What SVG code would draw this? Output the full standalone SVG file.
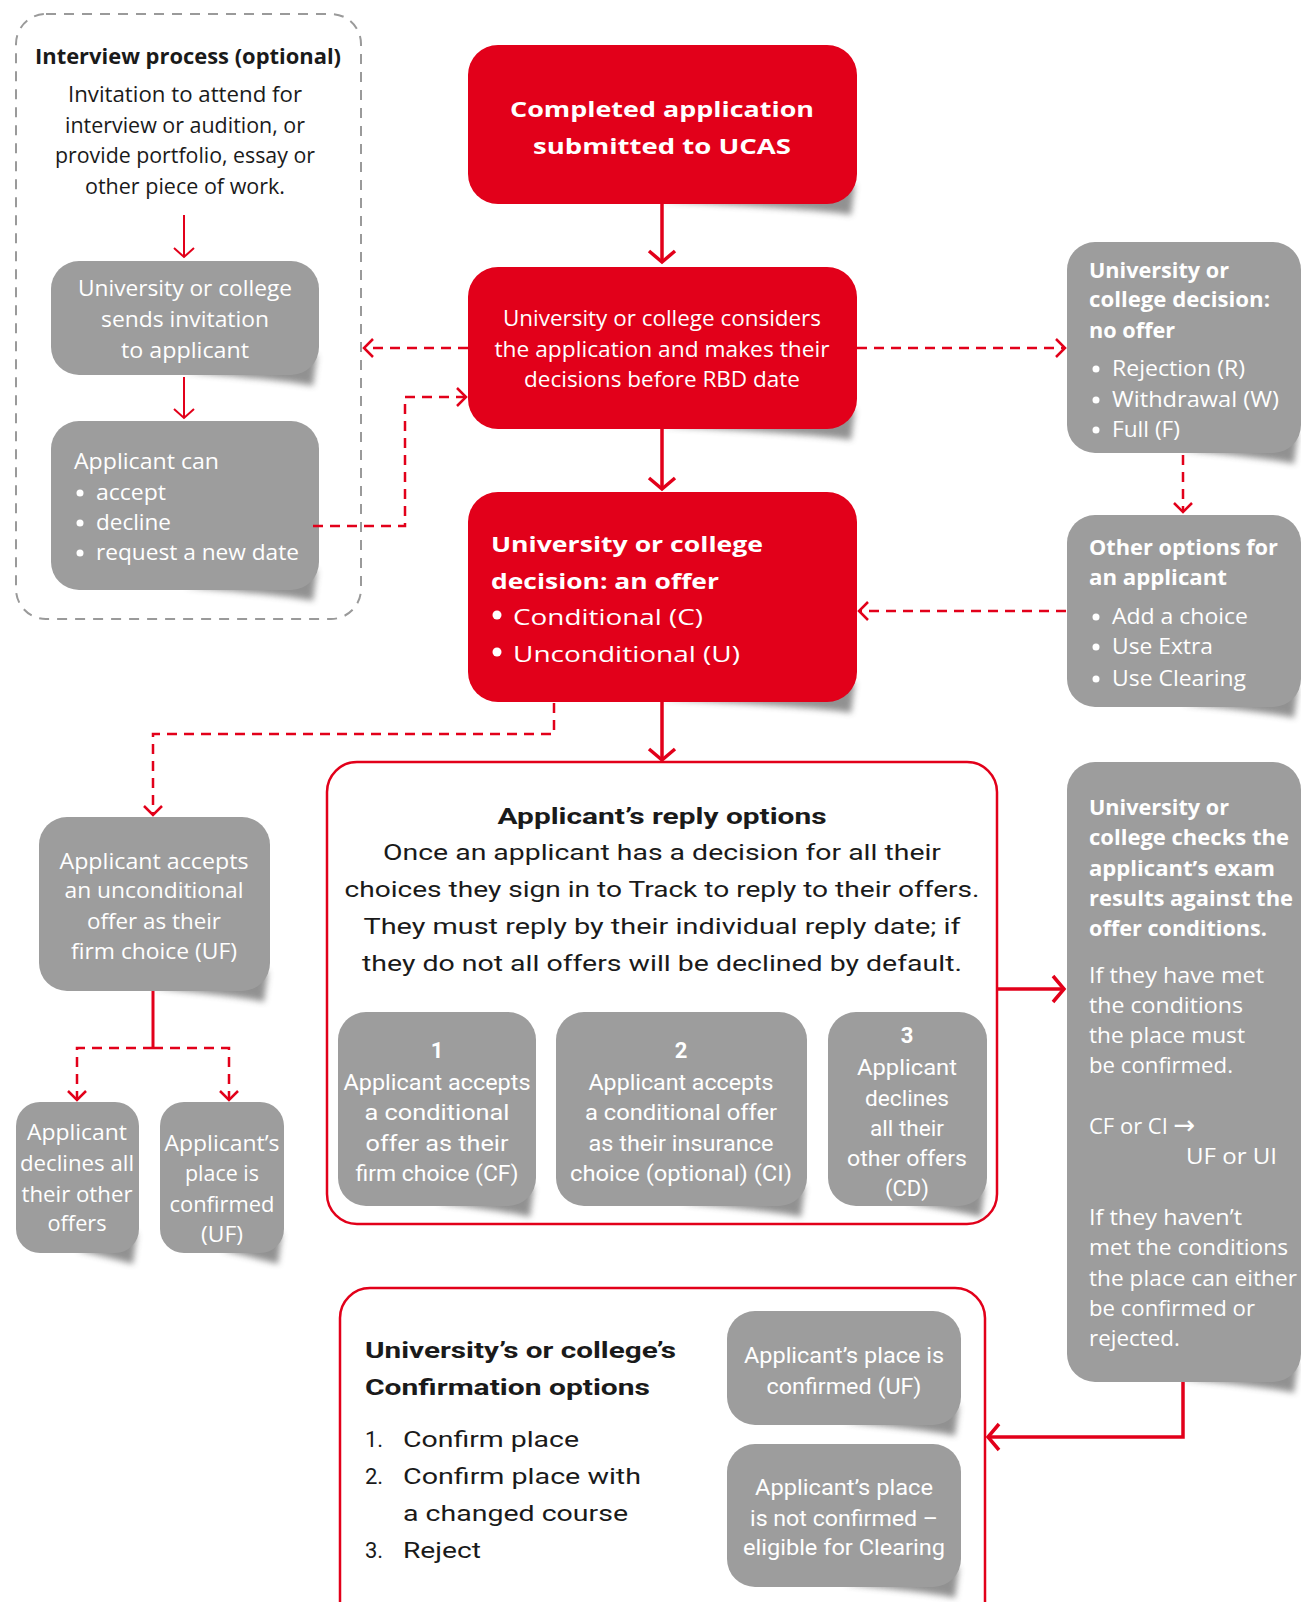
<svg xmlns="http://www.w3.org/2000/svg" width="1301" height="1602" viewBox="0 0 1301 1602">
<style>
.bg{fill:#fff}
.gray{fill:#9d9d9d}
.red{fill:#e2001a}
.sh{fill:#4a4a4a;opacity:.6;filter:url(#blur)}
.outline{fill:#fff;stroke:#e2001a;stroke-width:2.5}
.dashbox{fill:none;stroke:#9a9a9a;stroke-width:2;stroke-dasharray:10 8}
text{font-family:"Open Sans","Noto Sans",sans-serif;font-size:22px;fill:#fff}
.k{fill:#1a1a1a}
.b{font-weight:700}
.c{font-family:Roboto,"Liberation Sans",sans-serif}
.m{text-anchor:middle}
.solid{fill:none;stroke:#e2001a;stroke-width:3.5}
.thin{fill:none;stroke:#e2001a;stroke-width:2}
.dash{fill:none;stroke:#e2001a;stroke-width:2.5;stroke-dasharray:10 7}
</style>
<defs>
<filter id="blur" x="-20%" y="-50%" width="140%" height="200%"><feGaussianBlur stdDeviation="3"/></filter>
<marker id="ah" markerUnits="userSpaceOnUse" markerWidth="32" markerHeight="32" viewBox="-16 -16 32 32" refX="0" refY="0" orient="auto" overflow="visible"><path d="M-11,-13 L0,0 L-11,13" fill="none" stroke="#e2001a" stroke-width="3.5"/></marker>
<marker id="ad" markerUnits="userSpaceOnUse" markerWidth="24" markerHeight="24" viewBox="-12 -12 24 24" refX="0" refY="0" orient="auto" overflow="visible"><path d="M-9,-9 L0,0 L-9,9" fill="none" stroke="#e2001a" stroke-width="2.5"/></marker>
<marker id="at" markerUnits="userSpaceOnUse" markerWidth="24" markerHeight="24" viewBox="-12 -12 24 24" refX="0" refY="0" orient="auto" overflow="visible"><path d="M-9,-10 L0,0 L-9,10" fill="none" stroke="#e2001a" stroke-width="2"/></marker>
</defs>
<rect class="bg" x="0" y="0" width="1301" height="1602"/>

<g id="interview">
<rect class="dashbox" x="16" y="14" width="345" height="605" rx="30"/>
<text class="k b m" x="188" y="64" textLength="306" lengthAdjust="spacingAndGlyphs">Interview process (optional)</text>
<text class="k m" x="185" y="102" font-size="21" textLength="234" lengthAdjust="spacingAndGlyphs">Invitation to attend for</text>
<text class="k m" x="185" y="133" font-size="21" textLength="240" lengthAdjust="spacingAndGlyphs">interview or audition, or</text>
<text class="k m" x="185" y="163" font-size="21" textLength="260" lengthAdjust="spacingAndGlyphs">provide portfolio, essay or</text>
<text class="k m" x="185" y="194" font-size="21" textLength="200" lengthAdjust="spacingAndGlyphs">other piece of work.</text>
</g>

<g id="sends-invitation">
<path class="sh" d="M185,372 Q294,381 313,386 L317,355 Z"/>
<rect class="gray" x="51" y="261" width="268" height="114" rx="28"/>
<text class="m" x="185" y="296" textLength="214" lengthAdjust="spacingAndGlyphs">University or college</text>
<text class="m" x="185" y="327" textLength="168" lengthAdjust="spacingAndGlyphs">sends invitation</text>
<text class="m" x="185" y="358" textLength="128" lengthAdjust="spacingAndGlyphs">to applicant</text>
</g>

<g id="applicant-can">
<path class="sh" d="M185,587 Q294,596 313,601 L317,570 Z"/>
<rect class="gray" x="51" y="421" width="268" height="169" rx="28"/>
<text x="74" y="469" textLength="145" lengthAdjust="spacingAndGlyphs">Applicant can</text>
<circle cx="80" cy="493" r="3.5" fill="#fff"/><text x="96" y="500" textLength="70" lengthAdjust="spacingAndGlyphs">accept</text>
<circle cx="80" cy="523" r="3.5" fill="#fff"/><text x="96" y="530" textLength="75" lengthAdjust="spacingAndGlyphs">decline</text>
<circle cx="80" cy="553" r="3.5" fill="#fff"/><text x="96" y="560" textLength="203" lengthAdjust="spacingAndGlyphs">request a new date</text>
</g>

<g id="submitted">
<path class="sh" d="M662,201 Q832,210 851,215 L855,184 Z"/>
<rect class="red" x="468" y="45" width="389" height="159" rx="30"/>
<text class="b m" x="662" y="117" font-size="31" textLength="304" lengthAdjust="spacingAndGlyphs">Completed application</text>
<text class="b m" x="662" y="154" font-size="31" textLength="258" lengthAdjust="spacingAndGlyphs">submitted to UCAS</text>
</g>

<g id="considers">
<path class="sh" d="M662,426 Q832,435 851,440 L855,409 Z"/>
<rect class="red" x="468" y="267" width="389" height="162" rx="30"/>
<text class="m" x="662" y="326" textLength="318" lengthAdjust="spacingAndGlyphs">University or college considers</text>
<text class="m" x="662" y="357" textLength="335" lengthAdjust="spacingAndGlyphs">the application and makes their</text>
<text class="m" x="662" y="387" textLength="276" lengthAdjust="spacingAndGlyphs">decisions before RBD date</text>
</g>

<g id="offer">
<path class="sh" d="M662,699 Q832,708 851,713 L855,682 Z"/>
<rect class="red" x="468" y="492" width="389" height="210" rx="30"/>
<text class="b" x="491" y="552" font-size="30" textLength="272" lengthAdjust="spacingAndGlyphs">University or college</text>
<text class="b" x="491" y="589" font-size="30" textLength="228" lengthAdjust="spacingAndGlyphs">decision: an offer</text>
<circle cx="497" cy="615" r="4.5" fill="#fff"/><text x="513" y="625" font-size="30" textLength="190" lengthAdjust="spacingAndGlyphs">Conditional (C)</text>
<circle cx="497" cy="652" r="4.5" fill="#fff"/><text x="513" y="662" font-size="30" textLength="227" lengthAdjust="spacingAndGlyphs">Unconditional (U)</text>
</g>

<g id="no-offer">
<path class="sh" d="M1183,450 Q1275,459 1294,464 L1298,433 Z"/>
<rect class="gray" x="1067" y="242" width="234" height="211" rx="28"/>
<text class="b" x="1089" y="278" textLength="140" lengthAdjust="spacingAndGlyphs">University or</text>
<text class="b" x="1089" y="307" textLength="181" lengthAdjust="spacingAndGlyphs">college decision:</text>
<text class="b" x="1089" y="338" textLength="86" lengthAdjust="spacingAndGlyphs">no offer</text>
<circle cx="1096" cy="369" r="3.5" fill="#fff"/><text x="1112" y="376" textLength="133" lengthAdjust="spacingAndGlyphs">Rejection (R)</text>
<circle cx="1096" cy="400" r="3.5" fill="#fff"/><text x="1112" y="407" textLength="167" lengthAdjust="spacingAndGlyphs">Withdrawal (W)</text>
<circle cx="1096" cy="430" r="3.5" fill="#fff"/><text x="1112" y="437" textLength="68" lengthAdjust="spacingAndGlyphs">Full (F)</text>
</g>

<g id="other-options">
<path class="sh" d="M1183,704 Q1275,713 1294,718 L1298,687 Z"/>
<rect class="gray" x="1067" y="515" width="234" height="192" rx="28"/>
<text class="b" x="1089" y="555" textLength="189" lengthAdjust="spacingAndGlyphs">Other options for</text>
<text class="b" x="1089" y="585" textLength="138" lengthAdjust="spacingAndGlyphs">an applicant</text>
<circle cx="1096" cy="617" r="3.5" fill="#fff"/><text x="1112" y="624" textLength="136" lengthAdjust="spacingAndGlyphs">Add a choice</text>
<circle cx="1096" cy="647" r="3.5" fill="#fff"/><text x="1112" y="654" textLength="101" lengthAdjust="spacingAndGlyphs">Use Extra</text>
<circle cx="1096" cy="679" r="3.5" fill="#fff"/><text x="1112" y="686" textLength="134" lengthAdjust="spacingAndGlyphs">Use Clearing</text>
</g>

<g id="accepts-unconditional">
<path class="sh" d="M154,988 Q245,997 264,1002 L268,971 Z"/>
<rect class="gray" x="39" y="817" width="231" height="174" rx="28"/>
<text class="m" x="154" y="869" textLength="189" lengthAdjust="spacingAndGlyphs">Applicant accepts</text>
<text class="m" x="154" y="898" textLength="179" lengthAdjust="spacingAndGlyphs">an unconditional</text>
<text class="m" x="154" y="929" textLength="134" lengthAdjust="spacingAndGlyphs">offer as their</text>
<text class="m" x="154" y="959" textLength="166" lengthAdjust="spacingAndGlyphs">firm choice (UF)</text>
</g>

<g id="declines-others">
<path class="sh" d="M77,1250 Q114,1259 133,1264 L137,1233 Z"/>
<rect class="gray" x="16" y="1102" width="123" height="151" rx="24"/>
<text class="m" x="77" y="1140" textLength="100" lengthAdjust="spacingAndGlyphs">Applicant</text>
<text class="m" x="77" y="1171" textLength="114" lengthAdjust="spacingAndGlyphs">declines all</text>
<text class="m" x="77" y="1202" textLength="111" lengthAdjust="spacingAndGlyphs">their other</text>
<text class="m" x="77" y="1231" textLength="59" lengthAdjust="spacingAndGlyphs">offers</text>
</g>

<g id="place-confirmed-uf">
<path class="sh" d="M222,1250 Q259,1259 278,1264 L282,1233 Z"/>
<rect class="gray" x="160" y="1102" width="124" height="151" rx="24"/>
<text class="m" x="222" y="1151" textLength="115" lengthAdjust="spacingAndGlyphs">Applicant’s</text>
<text class="m" x="222" y="1181" textLength="74" lengthAdjust="spacingAndGlyphs">place is</text>
<text class="m" x="222" y="1212" textLength="105" lengthAdjust="spacingAndGlyphs">confirmed</text>
<text class="m" x="222" y="1242" textLength="42" lengthAdjust="spacingAndGlyphs">(UF)</text>
</g>

<g id="reply-options">
<rect class="outline" x="327" y="762" width="670" height="462" rx="30"/>
<text class="k b c m" x="662" y="824" font-size="32" textLength="329" lengthAdjust="spacingAndGlyphs">Applicant’s reply options</text>
<text class="k c m" x="662" y="860" font-size="33" textLength="558" lengthAdjust="spacingAndGlyphs">Once an applicant has a decision for all their</text>
<text class="k c m" x="662" y="897" font-size="33" textLength="635" lengthAdjust="spacingAndGlyphs">choices they sign in to Track to reply to their offers.</text>
<text class="k c m" x="662" y="934" font-size="33" textLength="597" lengthAdjust="spacingAndGlyphs">They must reply by their individual reply date; if</text>
<text class="k c m" x="662" y="971" font-size="33" textLength="600" lengthAdjust="spacingAndGlyphs">they do not all offers will be declined by default.</text>
</g>

<g id="option-1">
<path class="sh" d="M437,1203 Q511,1212 530,1217 L534,1186 Z"/>
<rect class="gray" x="338" y="1012" width="198" height="194" rx="28"/>
<text class="b c m" x="437" y="1058" font-size="32">1</text>
<text class="c m" x="437" y="1090" font-size="26" textLength="187" lengthAdjust="spacingAndGlyphs">Applicant accepts</text>
<text class="c m" x="437" y="1120" font-size="26" textLength="145" lengthAdjust="spacingAndGlyphs">a conditional</text>
<text class="c m" x="437" y="1151" font-size="26" textLength="143" lengthAdjust="spacingAndGlyphs">offer as their</text>
<text class="c m" x="437" y="1181" font-size="26" textLength="163" lengthAdjust="spacingAndGlyphs">firm choice (CF)</text>
</g>

<g id="option-2">
<path class="sh" d="M681,1203 Q782,1212 801,1217 L805,1186 Z"/>
<rect class="gray" x="556" y="1012" width="251" height="194" rx="28"/>
<text class="b c m" x="681" y="1058" font-size="32">2</text>
<text class="c m" x="681" y="1090" font-size="26" textLength="185" lengthAdjust="spacingAndGlyphs">Applicant accepts</text>
<text class="c m" x="681" y="1120" font-size="26" textLength="192" lengthAdjust="spacingAndGlyphs">a conditional offer</text>
<text class="c m" x="681" y="1151" font-size="26" textLength="185" lengthAdjust="spacingAndGlyphs">as their insurance</text>
<text class="c m" x="681" y="1181" font-size="26" textLength="222" lengthAdjust="spacingAndGlyphs">choice (optional) (CI)</text>
</g>

<g id="option-3">
<path class="sh" d="M907,1203 Q962,1212 981,1217 L985,1186 Z"/>
<rect class="gray" x="828" y="1012" width="159" height="194" rx="28"/>
<text class="b c m" x="907" y="1043" font-size="32">3</text>
<text class="c m" x="907" y="1075" font-size="26" textLength="100" lengthAdjust="spacingAndGlyphs">Applicant</text>
<text class="c m" x="907" y="1106" font-size="26" textLength="84" lengthAdjust="spacingAndGlyphs">declines</text>
<text class="c m" x="907" y="1136" font-size="26" textLength="74" lengthAdjust="spacingAndGlyphs">all their</text>
<text class="c m" x="907" y="1166" font-size="26" textLength="120" lengthAdjust="spacingAndGlyphs">other offers</text>
<text class="c m" x="907" y="1196" font-size="26" textLength="44" lengthAdjust="spacingAndGlyphs">(CD)</text>
</g>

<g id="checks-results">
<path class="sh" d="M1183,1379 Q1275,1388 1294,1393 L1298,1362 Z"/>
<rect class="gray" x="1067" y="762" width="234" height="620" rx="28"/>
<text class="b" x="1089" y="815" textLength="140" lengthAdjust="spacingAndGlyphs">University or</text>
<text class="b" x="1089" y="845" textLength="200" lengthAdjust="spacingAndGlyphs">college checks the</text>
<text class="b" x="1089" y="876" textLength="186" lengthAdjust="spacingAndGlyphs">applicant’s exam</text>
<text class="b" x="1089" y="906" textLength="204" lengthAdjust="spacingAndGlyphs">results against the</text>
<text class="b" x="1089" y="936" textLength="178" lengthAdjust="spacingAndGlyphs">offer conditions.</text>
<text x="1089" y="983" textLength="175" lengthAdjust="spacingAndGlyphs">If they have met</text>
<text x="1089" y="1013" textLength="154" lengthAdjust="spacingAndGlyphs">the conditions</text>
<text x="1089" y="1043" textLength="156" lengthAdjust="spacingAndGlyphs">the place must</text>
<text x="1089" y="1073" textLength="144" lengthAdjust="spacingAndGlyphs">be confirmed.</text>
<text x="1089" y="1134">CF or CI <tspan font-family="DejaVu Sans" font-size="26">→</tspan></text>
<text x="1186" y="1164" textLength="91" lengthAdjust="spacingAndGlyphs">UF or UI</text>
<text x="1089" y="1225" textLength="153" lengthAdjust="spacingAndGlyphs">If they haven’t</text>
<text x="1089" y="1255" textLength="199" lengthAdjust="spacingAndGlyphs">met the conditions</text>
<text x="1089" y="1286" textLength="208" lengthAdjust="spacingAndGlyphs">the place can either</text>
<text x="1089" y="1316" textLength="166" lengthAdjust="spacingAndGlyphs">be confirmed or</text>
<text x="1089" y="1346" textLength="91" lengthAdjust="spacingAndGlyphs">rejected.</text>
</g>

<g id="confirmation-options">
<rect class="outline" x="340" y="1288" width="645" height="345" rx="30"/>
<text class="k b c" x="365" y="1358" font-size="32" textLength="311" lengthAdjust="spacingAndGlyphs">University’s or college’s</text>
<text class="k b c" x="365" y="1395" font-size="32" textLength="285" lengthAdjust="spacingAndGlyphs">Confirmation options</text>
<text class="k c" x="365" y="1447" font-size="33">1.</text>
<text class="k c" x="403" y="1447" font-size="33" textLength="176" lengthAdjust="spacingAndGlyphs">Confirm place</text>
<text class="k c" x="365" y="1484" font-size="33">2.</text>
<text class="k c" x="403" y="1484" font-size="33" textLength="238" lengthAdjust="spacingAndGlyphs">Confirm place with</text>
<text class="k c" x="403" y="1521" font-size="33" textLength="225" lengthAdjust="spacingAndGlyphs">a changed course</text>
<text class="k c" x="365" y="1558" font-size="33">3.</text>
<text class="k c" x="403" y="1558" font-size="33" textLength="78" lengthAdjust="spacingAndGlyphs">Reject</text>
</g>

<g id="confirmed-uf">
<path class="sh" d="M844,1422 Q936,1431 955,1436 L959,1405 Z"/>
<rect class="gray" x="727" y="1311" width="234" height="114" rx="28"/>
<text class="c m" x="844" y="1363" font-size="26" textLength="200" lengthAdjust="spacingAndGlyphs">Applicant’s place is</text>
<text class="c m" x="844" y="1394" font-size="26" textLength="155" lengthAdjust="spacingAndGlyphs">confirmed (UF)</text>
</g>

<g id="not-confirmed">
<path class="sh" d="M844,1584 Q936,1593 955,1598 L959,1567 Z"/>
<rect class="gray" x="727" y="1444" width="234" height="143" rx="28"/>
<text class="c m" x="844" y="1495" font-size="26" textLength="178" lengthAdjust="spacingAndGlyphs">Applicant’s place</text>
<text class="c m" x="844" y="1526" font-size="26" textLength="188" lengthAdjust="spacingAndGlyphs">is not confirmed –</text>
<text class="c m" x="844" y="1555" font-size="26" textLength="202" lengthAdjust="spacingAndGlyphs">eligible for Clearing</text>
</g>

<g id="connectors">
<path class="thin" d="M184,215 V257" marker-end="url(#at)"/>
<path class="thin" d="M184,377 V418" marker-end="url(#at)"/>
<path class="solid" d="M662,204 V262" marker-end="url(#ah)"/>
<path class="solid" d="M662,429 V489" marker-end="url(#ah)"/>
<path class="solid" d="M662,702 V760" marker-end="url(#ah)"/>
<path class="dash" d="M468,348 H364" marker-end="url(#ad)"/>
<path class="dash" d="M857,348 H1065" marker-end="url(#ad)"/>
<path class="dash" d="M313,526 H405 V397 H466" marker-end="url(#ad)"/>
<path class="dash" d="M1183,455 V512" marker-end="url(#ad)"/>
<path class="dash" d="M1066,611 H859" marker-end="url(#ad)"/>
<path class="dash" d="M554,703 V734 H153 V815" marker-end="url(#ad)"/>
<path class="solid" d="M153,991 V1048" style="stroke-width:3"/>
<path class="dash" d="M153,1048 H77 V1100" marker-end="url(#ad)"/>
<path class="dash" d="M153,1048 H229 V1100" marker-end="url(#ad)"/>
<path class="solid" d="M997,989 H1064" marker-end="url(#ah)"/>
<path class="solid" d="M1183,1382 V1437 H988" marker-end="url(#ah)"/>
</g>
</svg>
